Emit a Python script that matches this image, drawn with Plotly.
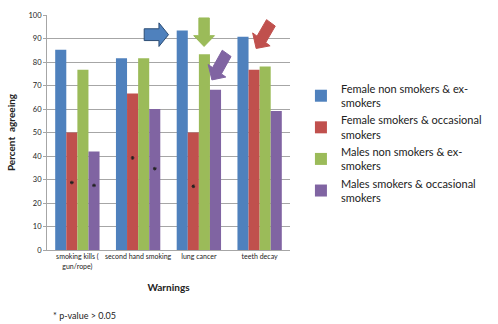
import plotly.graph_objects as go

categories = ["smoking kills (<br>gun/rope)", "second hand smoking", "lung cancer", "teeth decay"]
series_names = [
    "Female non smokers & ex-<br>smokers",
    "Female smokers & occasional<br>smokers",
    "Males non smokers & ex-<br>smokers",
    "Males smokers & occasional<br>smokers",
]
female_non = [85.2, 81.6, 93.4, 90.7]
female_smk = [50.0, 66.6, 50.0, 76.7]
male_non = [76.7, 81.6, 83.3, 78.1]
male_smk = [41.9, 60.0, 68.2, 59.1]
# p-value markers (asterisks) per series, None where absent
star_female_smk = [28.7, 39.2, 27.1, None]
star_male_smk = [27.5, 34.6, None, None]

colors = ["#4F81BD", "#C0504D", "#9BBB59", "#8064A2"]
values = [female_non, female_smk, male_non, male_smk]

fig = go.Figure()
for i, (name, vals) in enumerate(zip(series_names, values)):
    fig.add_trace(go.Bar(x=categories, y=vals, name=name, marker_color=colors[i],
                         marker_line_width=0, offsetgroup=str(i)))

for idx, stars in [(1, star_female_smk), (3, star_male_smk)]:
    fig.add_trace(go.Scatter(x=categories, y=stars, mode="markers", offsetgroup=str(idx),
                             marker=dict(symbol="asterisk-open", size=3, color="#222",
                                         line=dict(width=1, color="#222")),
                             showlegend=False, hoverinfo="skip"))

# plot area in pixels
L, R, T, B = 45, 325, 11, 250

def px2paper(pts):
    return [((x - L) / (R - L), (B - y) / (B - T)) for x, y in pts]

def block_arrow(tail, tip, shaft=6.0, head=12.0, headlen=11.0):
    import math
    dx, dy = tip[0] - tail[0], tip[1] - tail[1]
    ln = math.hypot(dx, dy)
    ux, uy = dx / ln, dy / ln
    nx, ny = -uy, ux
    bx, by = tip[0] - ux * headlen, tip[1] - uy * headlen
    pts = [
        (tail[0] + nx * shaft, tail[1] + ny * shaft),
        (bx + nx * shaft, by + ny * shaft),
        (bx + nx * head, by + ny * head),
        tip,
        (bx - nx * head, by - ny * head),
        (bx - nx * shaft, by - ny * shaft),
        (tail[0] - nx * shaft, tail[1] - ny * shaft),
    ]
    pp = px2paper(pts)
    return "M " + " L ".join(f"{x:.4f},{y:.4f}" for x, y in pp) + " Z"

arrows = [
    ((157, 31), (185, 31), colors[0], "#2C4D75"),
    ((226, 14), (226, 43), colors[2], "#9BBB59"),
    ((252, 50), (235, 77), colors[3], "#8064A2"),
    ((303, 19), (286, 45), colors[1], "#C0504D"),
]
for tail, tip, fill, line in arrows:
    fig.add_shape(type="path", xref="paper", yref="paper", path=block_arrow(tail, tip),
                  fillcolor=fill, line=dict(color=line, width=1))

fig.update_layout(
    width=498, height=324,
    margin=dict(l=L, r=498 - R, t=T, b=324 - B),
    paper_bgcolor="white", plot_bgcolor="white",
    barmode="group", scattermode="group", bargap=0.27, bargroupgap=0,
    font=dict(family="Lato, Open Sans, sans-serif", color="#222"),
    legend=dict(x=1.045, y=0.745, xanchor="left", yanchor="top",
                font=dict(size=11), tracegroupgap=2, itemwidth=30,
                bgcolor="rgba(0,0,0,0)"),
    showlegend=True,
)
fig.update_yaxes(range=[0, 100], dtick=10, showgrid=True, gridcolor="#A6A6A6", gridwidth=1,
                 showline=True, linecolor="#A6A6A6", ticks="outside", ticklen=3,
                 tickcolor="#A6A6A6", tickfont=dict(size=7.5),
                 title=dict(text="<b>Percent  agreeing</b>", font=dict(size=10), standoff=10),
                 zeroline=False)
fig.update_xaxes(showline=True, linecolor="#A6A6A6", tickfont=dict(size=7), ticks="",
                 title=dict(text="<b>Warnings</b>", font=dict(size=10), standoff=14))

fig.add_annotation(xref="paper", yref="paper", x=(50 - L) / (R - L), y=(B - 317) / (B - T),
                   text="* p-value > 0.05", showarrow=False, xanchor="left", yanchor="middle",
                   font=dict(size=9))

fig.write_html("out.html")
